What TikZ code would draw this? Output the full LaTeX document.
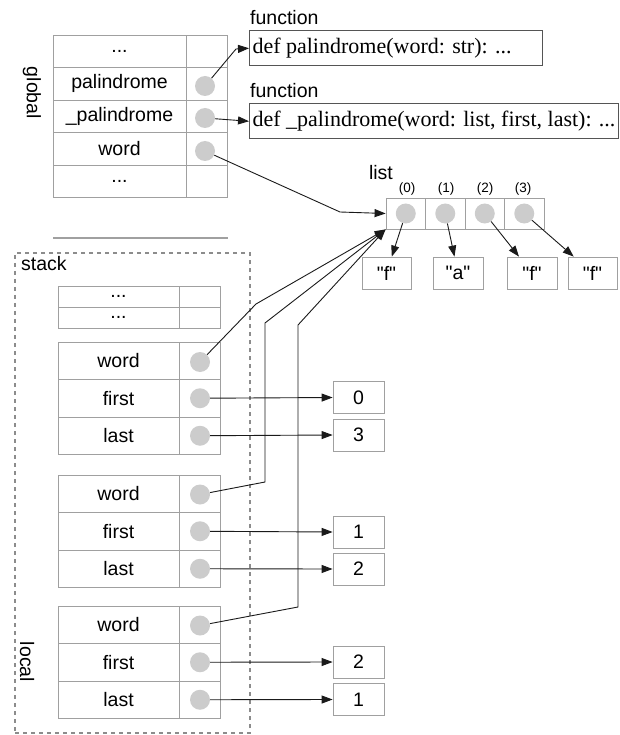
\documentclass[tikz,border=0pt]{standalone}
\usepackage{fontspec}
\setmainfont{Liberation Serif}
\setsansfont{Liberation Sans}[Ligatures=TeXOff]
\usetikzlibrary{arrows.meta}
\definecolor{cellgray}{HTML}{A0A0A0}
\definecolor{dotgray}{HTML}{CCCCCC}
\definecolor{arrcol}{HTML}{1A1A1A}
\definecolor{dashgray}{HTML}{8C8C8C}
\definecolor{boxcol}{HTML}{555555}
\begin{document}
\begin{tikzpicture}[x=1pt,y=-1pt,
  every node/.style={font=\sffamily\fontsize{19.5}{22}\selectfont, inner sep=0pt},
  lg/.style={draw=cellgray, line width=0.8pt, minimum width=133pt, minimum height=32.5pt},
  rg/.style={draw=cellgray, line width=0.8pt, minimum width=41pt, minimum height=32.5pt},
  ls/.style={draw=cellgray, line width=0.8pt, minimum width=121pt, minimum height=37.5pt},
  rs/.style={draw=cellgray, line width=0.8pt, minimum width=41pt, minimum height=37.5pt},
  le/.style={draw=cellgray, line width=0.8pt, minimum width=121pt, minimum height=21pt},
  re/.style={draw=cellgray, line width=0.8pt, minimum width=41pt, minimum height=21pt},
  lc/.style={draw=cellgray, line width=0.8pt, minimum width=39.5pt, minimum height=31pt},
  dotn/.style={circle, fill=dotgray, minimum size=20pt},
  valbox/.style={draw=cellgray, line width=0.8pt, minimum width=50pt, minimum height=32pt},
  funbox/.style={draw=boxcol, line width=1pt, inner xsep=3pt, minimum height=35.5pt, anchor=north west, font=\rmfamily\fontsize{22}{24}\selectfont},
  idx/.style={font=\sffamily\fontsize{13.5}{15}\selectfont},
  stackframe/.style={draw=dashgray, line width=1.5pt, dash pattern=on 4pt off 4pt},
  arr/.style={-{Triangle[length=11pt,width=8pt]}, line width=0.9pt, draw=arrcol},
]
\useasboundingbox (0,0) rectangle (620,735);

% ---------- global table ----------
\node[lg] (g1) at (119.5,51.25) {...};
\node[rg] (g1r) at (206.5,51.25) {};
\node[lg] (g2) at (119.5,83.75) {palindrome};
\node[rg] (g2r) at (206.5,83.75) {};
\node[lg] (g3) at (119.5,116.25) {\_palindrome};
\node[rg] (g3r) at (206.5,116.25) {};
\node[lg] (g4) at (119.5,148.75) {word};
\node[rg] (g4r) at (206.5,148.75) {};
\node[lg] (g5) at (119.5,181.25) {...};
\node[rg] (g5r) at (206.5,181.25) {};
\node[dotn] (gd2) at (205,86) {};
\node[dotn] (gd3) at (205,118) {};
\node[dotn] (gd4) at (205,151) {};
\node[rotate=-90] (glab) at (32,93) {global};

\coordinate (sep1) at (53,238);
\coordinate (sep2) at (228,238);
\draw[draw=cellgray, line width=1.2pt] (sep1) -- (sep2);

% ---------- functions ----------
\node[anchor=west] (fl1) at (250,18) {function};
\node[funbox] (f1) at (249,30) {\makebox[287pt][l]{def palindrome(word: str): ...}};
\node[anchor=west] (fl2) at (250,91) {function};
\node[funbox] (f2) at (249,103) {\makebox[363pt][l]{def \_palindrome(word: list, first, last): ...}};

% ---------- list ----------
\node (listlab) at (381,173) {list};
\node[lc] (l0) at (405.75,213.5) {};
\node[lc] (l1) at (445.25,213.5) {};
\node[lc] (l2) at (484.75,213.5) {};
\node[lc] (l3) at (524.25,213.5) {};
\node[idx] (i0) at (407,189) {(0)};
\node[idx] (i1) at (446,189) {(1)};
\node[idx] (i2) at (485,189) {(2)};
\node[idx] (i3) at (523,189) {(3)};
\node[dotn] (ld0) at (l0.center) {};
\node[dotn] (ld1) at (l1.center) {};
\node[dotn] (ld2) at (l2.center) {};
\node[dotn] (ld3) at (l3.center) {};
\node[valbox, minimum width=49pt] (v0) at (386.5,273) {"f"};
\node[valbox] (v1) at (458,273) {"a"};
\node[valbox] (v2) at (532,273) {"f"};
\node[valbox, minimum width=49pt] (v3) at (592.5,273) {"f"};
\draw[arr] (ld0) -- (v0);
\draw[arr] (ld1) -- (v1);
\draw[arr] (ld2) -- (v2);
\draw[arr] (ld3) -- (v3);

% ---------- stack ----------
\node[stackframe, minimum width=235pt, minimum height=480pt] (stk) at (132.5,493) {};
\node[anchor=west] (stklab) at (21,264) {stack};
\node[rotate=-90] (loclab) at (27,662) {local};

\node[le] (e1) at (118.5,296.5) {...};
\node[re] (e1r) at (199.5,296.5) {};
\node[le] (e2) at (118.5,317.5) {...};
\node[re] (e2r) at (199.5,317.5) {};

% frame 1
\node[ls] (a1) at (118.5,360.75) {word};
\node[rs] (a1r) at (199.5,360.75) {};
\node[ls] (a2) at (118.5,398.25) {first};
\node[rs] (a2r) at (199.5,398.25) {};
\node[ls] (a3) at (118.5,435.75) {last};
\node[rs] (a3r) at (199.5,435.75) {};
\node[dotn] (ad1) at (200,362) {};
\node[dotn] (ad2) at (200,398.25) {};
\node[dotn] (ad3) at (200,435.75) {};
\node[valbox, minimum width=51pt] (av2) at (358.5,397.5) {0};
\node[valbox, minimum width=51pt] (av3) at (358.5,435) {3};

% frame 2
\node[ls] (b1) at (118.5,493.75) {word};
\node[rs] (b1r) at (199.5,493.75) {};
\node[ls] (b2) at (118.5,531.25) {first};
\node[rs] (b2r) at (199.5,531.25) {};
\node[ls] (b3) at (118.5,568.75) {last};
\node[rs] (b3r) at (199.5,568.75) {};
\node[dotn] (bd1) at (200,494.5) {};
\node[dotn] (bd2) at (200,531.25) {};
\node[dotn] (bd3) at (200,568.75) {};
\node[valbox, minimum width=51pt] (bv2) at (358.5,532) {1};
\node[valbox, minimum width=51pt] (bv3) at (358.5,569) {2};

% frame 3
\node[ls] (c1) at (118.5,624.75) {word};
\node[rs] (c1r) at (199.5,624.75) {};
\node[ls] (c2) at (118.5,662.25) {first};
\node[rs] (c2r) at (199.5,662.25) {};
\node[ls] (c3) at (118.5,699.75) {last};
\node[rs] (c3r) at (199.5,699.75) {};
\node[dotn] (cd1) at (200,625.5) {};
\node[dotn] (cd2) at (200,662.25) {};
\node[dotn] (cd3) at (200,699.75) {};
\node[valbox, minimum width=51pt] (cv2) at (358.5,662) {2};
\node[valbox, minimum width=51pt] (cv3) at (358.5,699.5) {1};

% ---------- connectors ----------
\coordinate (kb1) at (236,49);
\coordinate (kb2) at (340,212);
\draw[arr] (gd2) -- (kb1) -- (f1.west);
\draw[arr] (gd3) -- (f2.west);
\draw[arr] (gd4) -- (kb2) -- (l0.west);

\coordinate (ka1) at (256,304);
\coordinate (kb3) at (265,482);
\coordinate (kb4) at (265,323);
\coordinate (kc3) at (298,607);
\coordinate (kc4) at (298,325);
\draw[arr] (ad1) -- (ka1) -- (l0.south west);
\draw[arr] (bd1) -- (kb3) -- (kb4) -- (l0.south west);
\draw[arr] (cd1) -- (kc3) -- (kc4) -- (l0.south west);

\draw[arr] (ad2) -- (av2.west);
\draw[arr] (ad3) -- (av3.west);
\draw[arr] (bd2) -- (bv2.west);
\draw[arr] (bd3) -- (bv3.west);
\draw[arr] (cd2) -- (cv2.west);
\draw[arr] (cd3) -- (cv3.west);
\end{tikzpicture}
\end{document}
